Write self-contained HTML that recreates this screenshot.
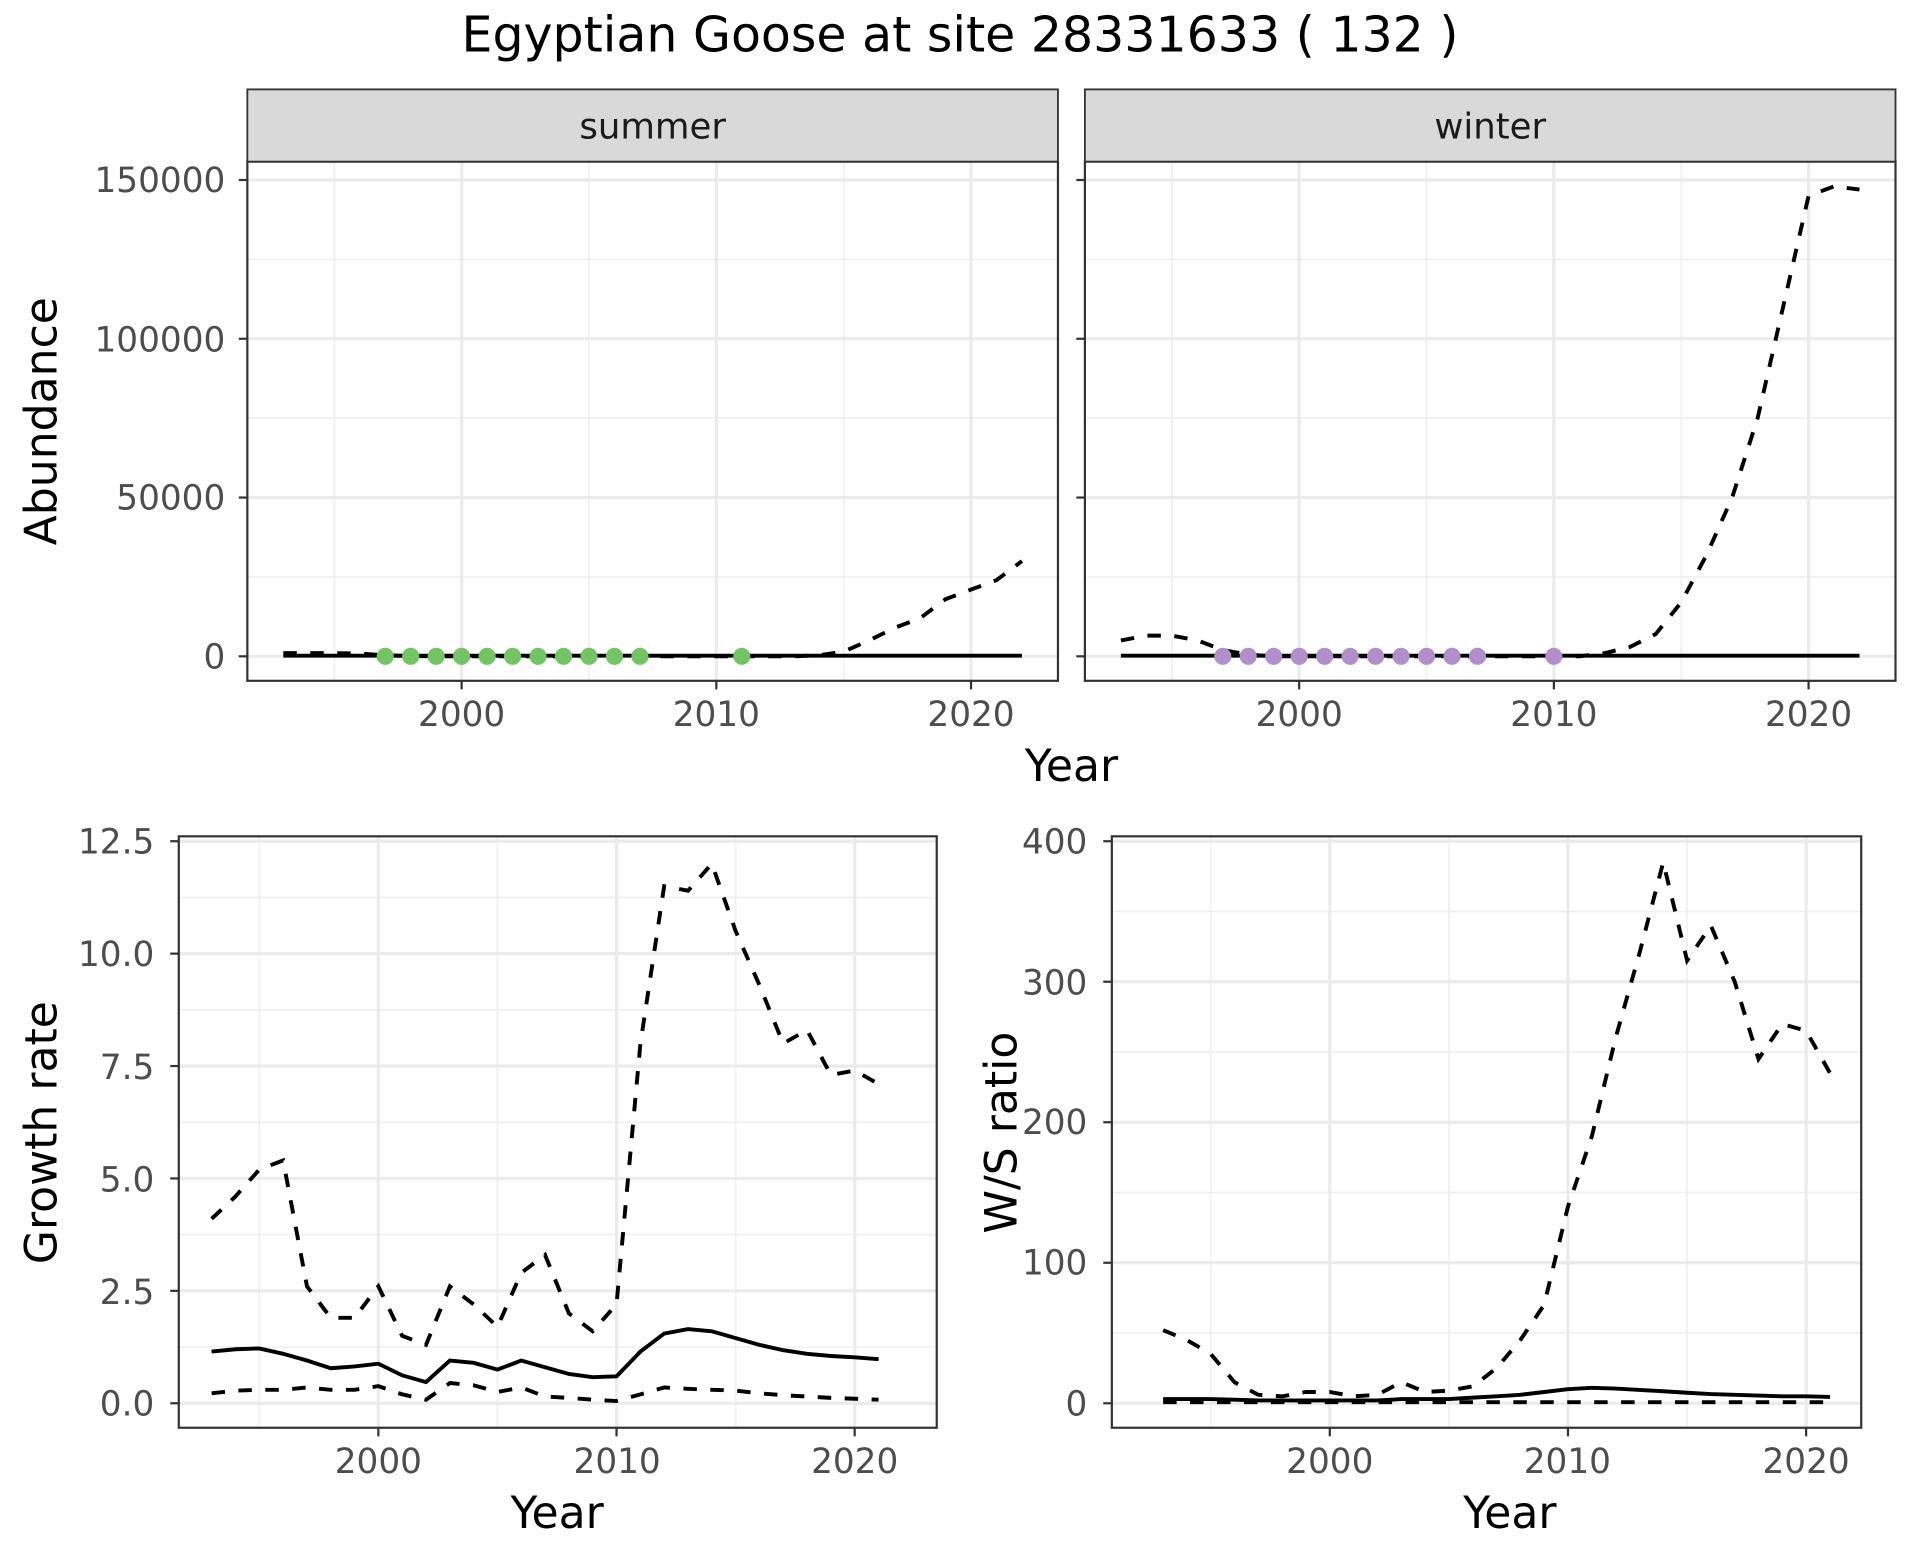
<!DOCTYPE html>
<html><head><meta charset="utf-8"><style>
html,body{margin:0;padding:0;background:#fff}
svg{display:block}
text{font-family:"DejaVu Sans","Liberation Sans",sans-serif}
</style></head><body>
<svg id="s" width="1920" height="1560" viewBox="0 0 1568 1274" xmlns="http://www.w3.org/2000/svg">
<rect width="1568" height="1274" fill="#fff"/>
<g id="grid"></g>
<g id="data"></g>
<rect x="202" y="73" width="662" height="59" fill="#d9d9d9" stroke="#333" stroke-width="1.5"/>
<rect x="886" y="73" width="662" height="59" fill="#d9d9d9" stroke="#333" stroke-width="1.5"/>
<text x="533" y="113" font-size="29" text-anchor="middle" fill="#1a1a1a">summer</text>
<text x="1217" y="113" font-size="29" text-anchor="middle" fill="#1a1a1a">winter</text>
<text x="784" y="42" font-size="40" text-anchor="middle" fill="#000">Egyptian Goose at site 28331633 ( 132 )</text>
<g font-size="28" fill="#4d4d4d" text-anchor="end">
<text x="184" y="157">150000</text><text x="184" y="287">100000</text>
<text x="184" y="416">50000</text><text x="184" y="546">0</text>
<text x="126" y="697">12.5</text><text x="126" y="789">10.0</text><text x="126" y="881">7.5</text>
<text x="126" y="973">5.0</text><text x="126" y="1065">2.5</text><text x="126" y="1156">0.0</text>
<text x="888" y="697">400</text><text x="888" y="812">300</text><text x="888" y="926">200</text>
<text x="888" y="1041">100</text><text x="888" y="1156">0</text>
</g>
<g font-size="28" fill="#4d4d4d" text-anchor="middle">
<text x="377" y="593">2000</text><text x="585" y="593">2010</text><text x="793" y="593">2020</text>
<text x="1061" y="593">2000</text><text x="1269" y="593">2010</text><text x="1477" y="593">2020</text>
<text x="309" y="1203">2000</text><text x="504" y="1203">2010</text><text x="698" y="1203">2020</text>
<text x="1086" y="1203">2000</text><text x="1280" y="1203">2010</text><text x="1475" y="1203">2020</text>
</g>
<g font-size="36" fill="#000" text-anchor="middle">
<text x="875" y="638">Year</text>
<text x="455" y="1248">Year</text>
<text x="1233" y="1248">Year</text>
<text transform="translate(46,344) rotate(-90)">Abundance</text>
<text transform="translate(46,925) rotate(-90)">Growth rate</text>
<text transform="translate(830,925) rotate(-90)">W/S ratio</text>
</g>
<script>
const NS="http://www.w3.org/2000/svg";
const G=document.getElementById('grid'),D=document.getElementById('data');
function el(p,tag,a){const e=document.createElementNS(NS,tag);for(const k in a)e.setAttribute(k,a[k]);p.appendChild(e);return e;}
function panel(x0,x1,y0,y1,fx,fy,ymaj,ymin){
 el(G,'rect',{x:x0,y:y0,width:x1-x0,height:y1-y0,fill:'#fff'});
 for(const v of ymin) el(G,'line',{x1:x0,x2:x1,y1:fy(v),y2:fy(v),stroke:'#f0f0f0','stroke-width':1.4});
 for(const v of [1995,2005,2015]) el(G,'line',{x1:fx(v),x2:fx(v),y1:y0,y2:y1,stroke:'#f0f0f0','stroke-width':1.4});
 for(const v of ymaj){el(G,'line',{x1:x0,x2:x1,y1:fy(v),y2:fy(v),stroke:'#ebebeb','stroke-width':2.6});
  el(G,'line',{x1:x0-7,x2:x0,y1:fy(v),y2:fy(v),stroke:'#333','stroke-width':1.8});}
 for(const v of [2000,2010,2020]){el(G,'line',{x1:fx(v),x2:fx(v),y1:y0,y2:y1,stroke:'#ebebeb','stroke-width':2.6});
  el(G,'line',{x1:fx(v),x2:fx(v),y1:y1,y2:y1+7,stroke:'#333','stroke-width':1.8});}
}
function line(fx,fy,start,vals,dash){
 const pts=vals.map((v,i)=>fx(start+i).toFixed(1)+','+fy(v).toFixed(1)).join(' ');
 el(D,'polyline',{points:pts,fill:'none',stroke:'#000','stroke-width':3.2,'stroke-dasharray':dash?'11,11':'none'});
}
function border(x0,x1,y0,y1){el(D,'rect',{x:x0,y:y0,width:x1-x0,height:y1-y0,fill:'none',stroke:'#333','stroke-width':1.8});}
const fyT=v=>536-v*389/150000;
const fxS=y=>377+(y-2000)*20.8, fxW=y=>1061+(y-2000)*20.8;
panel(202,864,132,556,fxS,fyT,[0,50000,100000,150000],[25000,75000,125000]);
panel(886,1548,132,556,fxW,fyT,[0,50000,100000,150000],[25000,75000,125000]);
const zeros=n=>Array(n).fill(0);
line(fxS,fyT,1993,[1000,1000,1000,900,300,100,0,0,0,0,0,0,0,0,0,0,0,0,0,0,0,300,1500,5000,9000,12000,18000,21000,24000,30000],true);
line(fxS,fyT,1993,zeros(30).map(()=>200),false);
line(fxW,fyT,1993,[5000,6500,6500,5000,2000,500,0,0,0,0,0,0,0,0,0,0,0,0,0,1000,3000,7000,17000,32000,50000,75000,110000,145000,148000,147000],true);
line(fxW,fyT,1993,zeros(30).map(()=>200),false);
for(const y of [1997,1998,1999,2000,2001,2002,2003,2004,2005,2006,2007,2011]) el(D,'circle',{cx:fxS(y),cy:fyT(0),r:7,fill:'#74c365'});
for(const y of [1997,1998,1999,2000,2001,2002,2003,2004,2005,2006,2007,2010]) el(D,'circle',{cx:fxW(y),cy:fyT(0),r:7,fill:'#b28ecb'});
border(202,864,132,556);border(886,1548,132,556);
const fxG=y=>309+(y-2000)*19.45, fyG=v=>1146-v*91.8/2.5;
panel(146,765,683,1166,fxG,fyG,[0,2.5,5,7.5,10,12.5],[1.25,3.75,6.25,8.75,11.25]);
line(fxG,fyG,1993,[4.1,4.6,5.2,5.4,2.6,1.9,1.9,2.6,1.5,1.3,2.6,2.2,1.7,2.9,3.3,2.0,1.6,2.2,8.0,11.5,11.4,12.0,10.5,9.3,8.0,8.3,7.3,7.4,7.1],true);
line(fxG,fyG,1993,[1.15,1.2,1.22,1.1,0.95,0.78,0.82,0.88,0.62,0.47,0.95,0.9,0.75,0.95,0.8,0.65,0.58,0.6,1.15,1.55,1.65,1.6,1.45,1.3,1.18,1.1,1.05,1.02,0.98],false);
line(fxG,fyG,1993,[0.22,0.28,0.3,0.3,0.35,0.3,0.3,0.38,0.2,0.08,0.45,0.4,0.25,0.35,0.15,0.12,0.08,0.05,0.2,0.35,0.32,0.3,0.28,0.22,0.18,0.15,0.12,0.1,0.08],true);
border(146,765,683,1166);
const fxR=y=>1086+(y-2000)*19.45, fyR=v=>1146-v*1.1475;
panel(908,1520,683,1166,fxR,fyR,[0,100,200,300,400],[50,150,250,350]);
line(fxR,fyR,1993,[52,45,35,15,6,5,8,8,5,6,15,8,9,12,25,45,70,140,190,260,320,385,315,340,300,245,270,265,235],true);
line(fxR,fyR,1993,[3,3,3,2.5,2,2,2,2,2,2,3,3,3,4,5,6,8,10,11,10.5,9.5,8.5,7.5,6.5,6,5.5,5,5,4.5],false);
line(fxR,fyR,1993,zeros(29).map(()=>0.8),true);
border(908,1520,683,1166);
</script>
</svg>
</body></html>
